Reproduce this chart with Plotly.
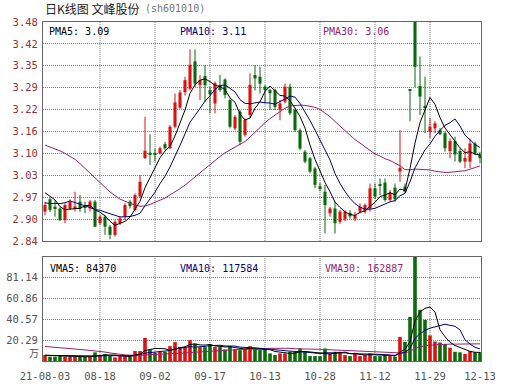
import plotly.graph_objects as go

W, H = 530, 391

# ---------------- data ----------------
tick_idx = [0, 11, 22, 33, 44, 55, 66, 77, 87]
tick_labels = ["21-08-03", "08-18", "09-02", "09-17", "10-13", "10-28", "11-12", "11-29", "12-13"]

opens = [2.926, 2.962, 2.940, 2.935, 2.901, 2.935, 2.936, 2.955, 2.942, 2.935,
         2.955, 2.892, 2.911, 2.882, 2.858, 2.892, 2.911, 2.955, 2.931, 2.970,
         3.082, 3.098, 3.096, 3.096, 3.123, 3.111, 3.174, 3.230, 3.275, 3.285,
         3.365, 3.296, 3.322, 3.281, 3.242, 3.296, 3.312, 3.252, 3.169, 3.218,
         3.150, 3.208, 3.325, 3.320, 3.291, 3.281, 3.281, 3.223, 3.247, 3.291,
         3.223, 3.164, 3.101, 3.082, 3.052, 3.000, 2.984, 2.921, 2.935, 2.896,
         2.903, 2.922, 2.905, 2.926, 2.926, 2.935, 2.994, 3.006, 3.011, 2.960,
         2.996, 3.043, 2.999, 3.283, 3.580, 3.293, 3.235, 3.159, 3.169, 3.164,
         3.155, 3.103, 3.132, 3.103, 3.072, 3.072, 3.125, 3.093]
highs = [2.955, 2.967, 2.960, 2.938, 2.950, 2.962, 2.984, 2.975, 2.955, 2.960,
         2.960, 2.916, 2.916, 2.887, 2.901, 2.911, 2.950, 2.960, 2.979, 3.033,
         3.203, 3.152, 3.110, 3.116, 3.130, 3.179, 3.271, 3.281, 3.320, 3.400,
         3.400, 3.325, 3.354, 3.291, 3.306, 3.325, 3.315, 3.257, 3.208, 3.223,
         3.198, 3.330, 3.354, 3.349, 3.296, 3.285, 3.285, 3.252, 3.300, 3.300,
         3.228, 3.169, 3.106, 3.086, 3.057, 3.010, 3.004, 2.940, 2.955, 2.930,
         2.930, 2.930, 2.925, 2.950, 2.950, 3.008, 3.008, 3.023, 3.023, 2.989,
         3.008, 3.164, 3.008, 3.284, 3.620, 3.379, 3.320, 3.200, 3.190, 3.170,
         3.160, 3.140, 3.145, 3.111, 3.111, 3.140, 3.130, 3.101]
lows = [2.915, 2.925, 2.911, 2.898, 2.892, 2.930, 2.926, 2.925, 2.921, 2.926,
        2.880, 2.887, 2.858, 2.845, 2.853, 2.887, 2.901, 2.935, 2.926, 2.965,
        3.080, 3.062, 3.072, 3.093, 3.106, 3.109, 3.169, 3.226, 3.265, 3.280,
        3.290, 3.252, 3.247, 3.213, 3.213, 3.276, 3.257, 3.169, 3.164, 3.120,
        3.145, 3.200, 3.280, 3.271, 3.242, 3.223, 3.223, 3.193, 3.242, 3.208,
        3.159, 3.106, 3.067, 3.038, 2.994, 2.985, 2.862, 2.911, 2.862, 2.890,
        2.898, 2.905, 2.898, 2.920, 2.920, 2.926, 2.962, 2.974, 2.955, 2.955,
        2.955, 3.013, 2.980, 3.190, 3.290, 3.208, 3.155, 3.140, 3.155, 3.150,
        3.101, 3.082, 3.072, 3.067, 3.053, 3.053, 3.093, 3.067]
closes = [2.945, 2.931, 2.935, 2.901, 2.945, 2.955, 2.941, 2.935, 2.938, 2.955,
          2.882, 2.911, 2.882, 2.858, 2.896, 2.906, 2.945, 2.942, 2.974, 3.013,
          3.104, 3.094, 3.094, 3.111, 3.111, 3.174, 3.245, 3.274, 3.310, 3.355,
          3.300, 3.310, 3.295, 3.269, 3.301, 3.281, 3.267, 3.174, 3.203, 3.130,
          3.194, 3.296, 3.315, 3.300, 3.281, 3.272, 3.232, 3.242, 3.291, 3.213,
          3.164, 3.110, 3.072, 3.043, 3.004, 2.992, 2.945, 2.935, 2.892, 2.926,
          2.926, 2.912, 2.916, 2.940, 2.945, 2.994, 2.970, 3.001, 2.960, 2.981,
          2.962, 3.054, 2.984, 3.281, 3.349, 3.262, 3.230, 3.174, 3.184, 3.152,
          3.111, 3.132, 3.093, 3.072, 3.083, 3.125, 3.096, 3.082]
# volume in 万 (10k)
volumes = [5.8, 4.2, 4.2, 5.5, 4.2, 4.2, 4.2, 4.2, 4.2, 4.2,
           8.4, 5.8, 6.8, 4.8, 3.5, 4.8, 4.8, 4.2, 9.7, 9.7,
           22.5, 11.3, 8.0, 9.0, 9.0, 14.5, 18.4, 13.8, 13.5, 20.3,
           17.0, 13.5, 13.5, 16.1, 13.8, 13.8, 11.3, 14.5, 11.3, 10.6,
           11.3, 14.5, 11.3, 10.6, 11.3, 7.4, 5.8, 7.4, 7.4, 9.0,
           9.0, 12.2, 9.0, 4.8, 4.8, 4.8, 12.2, 7.4, 9.0, 9.0,
           5.8, 4.8, 8.0, 4.8, 5.8, 7.4, 4.8, 4.8, 5.8, 4.8,
           4.2, 23.5, 18.7, 43.0, 105.0, 49.9, 40.2, 25.0, 19.0, 18.0,
           16.5, 13.0, 9.0, 8.5, 7.0, 9.5, 8.5, 8.7]
# estimated sessions before the window (needed for the moving averages at the left edge)
prior_closes = [3.08, 3.10, 3.09, 3.17, 3.20, 3.21, 3.32, 3.35, 3.34, 3.33,
                3.31, 3.32, 3.25, 3.22, 3.21, 3.14, 3.13, 3.12, 3.11, 3.09,
                2.95, 2.93, 2.91, 2.92, 2.90, 2.99, 2.98, 3.00, 2.99]
prior_volumes = [14.5, 16.2, 13.8, 15.4, 15.1, 20.3, 21.6, 18.7, 19.9, 21.2,
                 19.4, 27.5, 30.4, 29.1, 28.3, 13.4, 12.2, 14.1, 12.8, 6.1,
                 5.2, 5.6, 5.9, 4.9, 5.4, 6.2, 5.1, 5.5, 5.6]

price_ticks = [2.84, 2.904, 2.968, 3.032, 3.096, 3.16, 3.224, 3.288, 3.352, 3.416, 3.48]
price_tick_text = ["2.84", "2.90", "2.97", "3.03", "3.10", "3.16", "3.22", "3.29", "3.35", "3.42", "3.48"]
vol_ticks = [20.29, 40.57, 60.86, 81.14]
vol_tick_text = ["20.29", "40.57", "60.86", "81.14"]

# ---------------- styles ----------------
RED = "#dd1111"
GREEN = "#0b6b0b"
C_MA5 = "#000000"
C_MA10 = "#000080"
C_MA30 = "#99226e"
GRID = "#808080"
FRAME = "#666666"
MONO = "DejaVu Sans Mono"
CJK = "Noto Sans CJK SC"

n = len(closes)
xs = list(range(n))


def sma(prior, vals, k):
    allv = prior + vals
    off = len(prior)
    return [sum(allv[off + i - k + 1: off + i + 1]) / k for i in range(len(vals))]


ma5 = sma(prior_closes, closes, 5)
ma10 = sma(prior_closes, closes, 10)
ma30 = sma(prior_closes, closes, 30)
vma5 = sma(prior_volumes, volumes, 5)
vma10 = sma(prior_volumes, volumes, 10)
vma30 = sma(prior_volumes, volumes, 30)

up = [c >= o for o, c in zip(opens, closes)]
colors = [RED if u else GREEN for u in up]

fig = go.Figure()

# wicks
for flag, col in ((True, RED), (False, GREEN)):
    wx, wy = [], []
    for i in xs:
        if up[i] == flag:
            wx += [i, i, None]
            wy += [lows[i], highs[i], None]
    fig.add_trace(go.Scatter(x=wx, y=wy, mode="lines", line=dict(color=col, width=1),
                             xaxis="x", yaxis="y", hoverinfo="skip"))

# bodies
fig.add_trace(go.Bar(
    x=xs,
    y=[max(abs(c - o), 0.0018) for o, c in zip(opens, closes)],
    base=[min(o, c) for o, c in zip(opens, closes)],
    width=0.62, marker=dict(color=colors, line=dict(width=0)),
    xaxis="x", yaxis="y", hoverinfo="skip"))

# price MAs
for ys, col in ((ma30, C_MA30), (ma10, C_MA10), (ma5, C_MA5)):
    fig.add_trace(go.Scatter(x=xs, y=ys, mode="lines", line=dict(color=col, width=1),
                             xaxis="x", yaxis="y", hoverinfo="skip"))

# volume
fig.add_trace(go.Bar(x=xs, y=volumes, width=0.72, marker=dict(color=colors, line=dict(width=0)),
                     xaxis="x2", yaxis="y2", hoverinfo="skip"))
for ys, col in ((vma30, C_MA30), (vma10, C_MA10), (vma5, C_MA5)):
    fig.add_trace(go.Scatter(x=xs, y=ys, mode="lines", line=dict(color=col, width=1),
                             xaxis="x2", yaxis="y2", hoverinfo="skip"))


def px(x):
    return x / W


def py(y):
    return (H - y) / H


xdom = [px(43), px(481)]
xr = [-0.4, 87.2]
axis_common = dict(showline=True, mirror=True, linecolor=FRAME, linewidth=1,
                   zeroline=False, fixedrange=True, automargin=False)

fig.update_layout(
    width=W, height=H, margin=dict(l=0, r=0, t=0, b=0),
    paper_bgcolor="white", plot_bgcolor="white", showlegend=False,
    font=dict(family=MONO, size=10, color="#444"),
    barmode="overlay",
    xaxis=dict(domain=xdom, range=xr, anchor="y", showticklabels=False, showgrid=False,
               ticks="", **axis_common),
    yaxis=dict(domain=[py(241), py(22)], range=[2.84, 3.48], anchor="x",
               tickvals=price_ticks, ticktext=price_tick_text,
               tickfont=dict(family=MONO, size=10.5, color="#993333"),
               ticks="", ticklabelstandoff=2,
               showgrid=True, gridcolor=GRID, griddash="1px,1px", gridwidth=1,
               **axis_common),
    xaxis2=dict(domain=xdom, range=xr, anchor="y2", tickvals=tick_idx, ticktext=tick_labels,
                tickfont=dict(family=MONO, size=10.5, color="#555"),
                ticks="", ticklabelstandoff=5, showgrid=False, **axis_common),
    yaxis2=dict(domain=[py(361), py(257)], range=[0, 101.43], anchor="x2",
                tickvals=vol_ticks, ticktext=vol_tick_text,
                tickfont=dict(family=MONO, size=10.5, color="#555"),
                ticks="", ticklabelstandoff=2,
                showgrid=True, gridcolor=GRID, griddash="1px,1px", gridwidth=1,
                **axis_common),
)

shapes = []
for t in tick_idx[1:-1]:
    for xref, yref in (("x", "y domain"), ("x2", "y2 domain")):
        shapes.append(dict(type="line", xref=xref, yref=yref, x0=t, x1=t, y0=0, y1=1,
                           line=dict(color=GRID, width=1, dash="1px,1px"), layer="below"))
fig.update_layout(shapes=shapes)

ann = []


def text(x, y, s, color, size=10, family=MONO, xanchor="left"):
    ann.append(dict(x=px(x), y=py(y), xref="paper", yref="paper", text=s, showarrow=False,
                    xanchor=xanchor, yanchor="middle", font=dict(family=family, size=size, color=color)))


text(43, 8, "日K线图 文峰股份", "#222", size=12, family=CJK)
text(143, 8, "(sh601010)", "#777", size=10)
text(47, 32, "PMA5: 3.09", C_MA5)
text(178, 32, "PMA10: 3.11", C_MA10)
text(321, 32, "PMA30: 3.06", C_MA30)
text(48, 268, "VMA5: 84370", C_MA5)
text(178, 268, "VMA10: 117584", C_MA10)
text(323, 268, "VMA30: 162887", C_MA30)
text(41, 352, "万", "#555", size=10, family=CJK, xanchor="right")
fig.update_layout(annotations=ann)

fig.write_html("out.html")
